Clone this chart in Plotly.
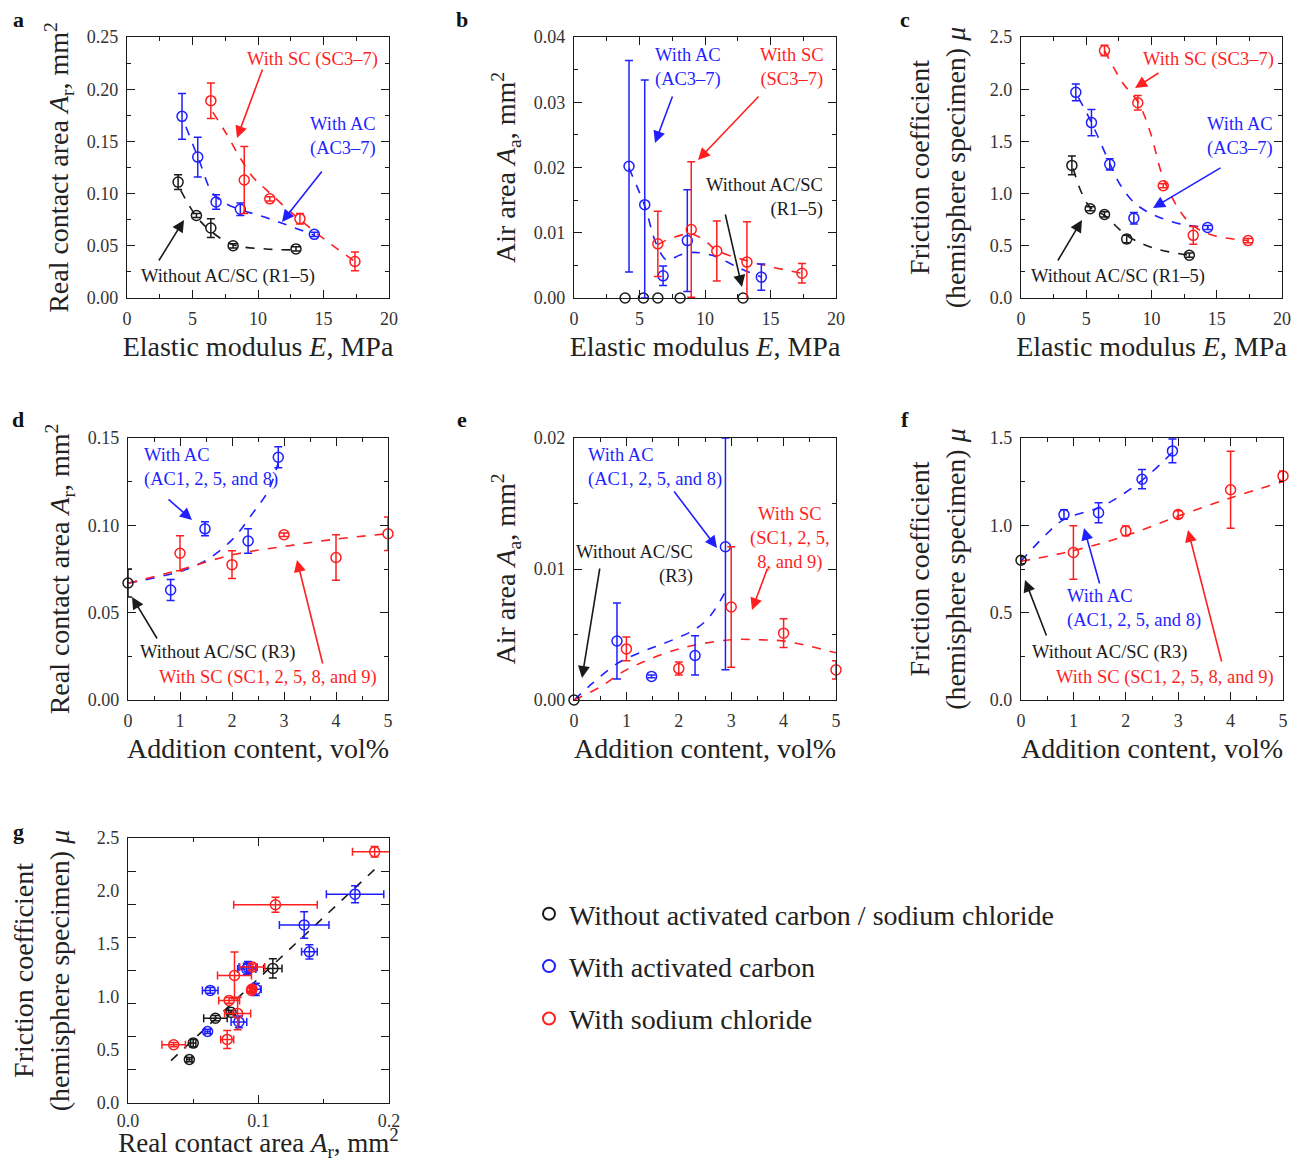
import plotly.graph_objects as go

# the page puts the figure 8px in from the top-left corner, so the figure is
# made 8px smaller and reference pixel positions are shifted by OFF
OFF = 8
W, H = 1307 - OFF, 1162 - OFF
FONT = "Liberation Serif"
RED, BLUE, BLACK = "#ff1f1f", "#1f1fff", "#1a1a1a"

# ---- panels a-c: elastic modulus series ----
E_R = [3.9, 5.3, 6.4, 8.1, 12.9]
E_AC = [4.2, 5.4, 6.8, 8.65, 14.3]
E_SC = [6.4, 8.95, 10.9, 13.2, 17.4]

ar_R = [0.111, 0.079, 0.067, 0.050, 0.047]
ar_R_err = [0.007, 0.002, 0.009, 0.002, 0.002]
ar_AC = [0.174, 0.135, 0.092, 0.085, 0.061]
ar_AC_err = [0.022, 0.019, 0.007, 0.006, 0.002]
ar_SC = [0.189, 0.113, 0.095, 0.076, 0.035]
ar_SC_err = [0.017, 0.032, 0.002, 0.005, 0.009]

aa_R = [0, 0, 0, 0, 0]
aa_AC = [0.0202, 0.0143, 0.0034, 0.0088, 0.0032]
aa_AC_errp = [0.0162, 0.0191, 0.0015, 0.0078, 0.002]
aa_AC_errm = [0.0162, 0.0143, 0.0015, 0.0078, 0.002]
aa_SC = [0.0083, 0.0105, 0.0072, 0.0055, 0.0038]
aa_SC_err = [0.005, 0.0104, 0.0046, 0.0062, 0.0015]

mu_R = [1.27, 0.855, 0.80, 0.565, 0.41]
mu_R_err = [0.09, 0.02, 0.025, 0.035, 0.02]
mu_AC = [1.97, 1.68, 1.28, 0.765, 0.675]
mu_AC_err = [0.08, 0.125, 0.055, 0.055, 0.02]
mu_SC = [2.37, 1.87, 1.075, 0.60, 0.55]
mu_SC_err = [0.05, 0.07, 0.02, 0.085, 0.02]

# ---- panels d-f: addition content series ----
vol_R3 = [0]
ar_R3, ar_R3_err = [0.067], [0.008]
aa_R3 = [0]
mu_R3, mu_R3_err = [0.80], [0.02]

vol_AC = [0.82, 1.48, 2.31, 2.89]
ar_ACv = [0.063, 0.098, 0.091, 0.139]
ar_ACv_err = [0.006, 0.004, 0.007, 0.006]
aa_ACv = [0.0045, 0.0018, 0.0034, 0.0117]
aa_ACv_errp = [0.0029, 0.0001, 0.0015, 0.0083]
aa_ACv_errm = [0.0029, 0.0001, 0.0015, 0.0094]
mu_ACv = [1.062, 1.072, 1.264, 1.426]
mu_ACv_err = [0.027, 0.057, 0.055, 0.068]

vol_SC = [1, 2, 3, 4, 5]
ar_SCv = [0.084, 0.0775, 0.0946, 0.0816, 0.0952]
ar_SCv_err = [0.010, 0.008, 0.001, 0.013, 0.0096]
aa_SCv = [0.0039, 0.0024, 0.0071, 0.0051, 0.0023]
aa_SCv_err = [0.0009, 0.0005, 0.0046, 0.0011, 0.0007]
mu_SCv = [0.845, 0.968, 1.062, 1.204, 1.283]
mu_SCv_err = [0.153, 0.028, 0.022, 0.22, 0.028]

# ---- dashed fit curves ----
fitA_R = ([4.1, 5.3, 6.5, 8.1, 10.6, 12.9], [0.103, 0.078, 0.063, 0.051, 0.047, 0.046])
fitA_AC = ([4.5, 5.5, 6.55, 7.6, 8.6, 10.6, 12.4, 14.3], [0.164, 0.132, 0.100, 0.090, 0.085, 0.077, 0.069, 0.060])
fitA_SC = ([6.55, 7.6, 8.6, 9.6, 10.6, 11.9, 13.2, 15.2, 17.4], [0.178, 0.157, 0.135, 0.116, 0.104, 0.089, 0.075, 0.055, 0.035])
fitB_AC = ([4.2, 5.4, 6.3, 7.1, 8.1, 9.1, 10.6, 12.7, 14.3], [0.0199, 0.0141, 0.0082, 0.0058, 0.0066, 0.0070, 0.0065, 0.0045, 0.0032])
fitB_SC = ([6.4, 7.6, 9.0, 10.1, 10.9, 13.2, 15.2, 17.4], [0.0082, 0.0093, 0.0098, 0.0086, 0.0073, 0.0057, 0.0047, 0.0038])
fitC_R = ([4.0, 4.6, 5.3, 6.4, 8.1, 10.1, 12.9], [1.24, 1.02, 0.87, 0.79, 0.60, 0.48, 0.41])
fitC_AC = ([4.4, 5.4, 6.8, 7.6, 8.7, 10.1, 12.2, 14.4], [1.92, 1.68, 1.29, 1.085, 0.91, 0.80, 0.71, 0.675])
fitC_SC = ([6.4, 7.8, 9.0, 9.9, 10.9, 12.2, 13.2, 14.7, 17.4], [2.37, 2.06, 1.87, 1.59, 1.15, 0.83, 0.69, 0.60, 0.55])
fitD_AC = ([0, 1.0, 1.5, 2.0, 2.4, 2.7, 2.9], [0.0669, 0.0736, 0.080, 0.0917, 0.107, 0.120, 0.137])
fitD_SC = ([0, 1, 2, 3, 4, 5], [0.0669, 0.0745, 0.0831, 0.0879, 0.0921, 0.0952])
fitE_AC = ([0, 0.36, 0.83, 1.25, 1.89, 2.27, 2.53, 2.72, 2.89], [0, 0.0013, 0.0028, 0.0036, 0.0046, 0.0053, 0.0061, 0.0071, 0.0083])
fitE_SC = ([0, 0.5, 1, 2, 3, 3.5, 4, 4.5, 5], [0, 0.001, 0.0023, 0.0039, 0.0046, 0.0046, 0.0045, 0.0041, 0.0036])
fitF_AC = ([0, 0.42, 0.82, 1.48, 1.88, 2.32, 2.71, 2.89], [0.794, 0.93, 1.034, 1.10, 1.166, 1.26, 1.364, 1.42])
fitF_SC = ([0, 1, 2, 3, 4, 5], [0.794, 0.855, 0.94, 1.053, 1.157, 1.25])
fitG = ([0.033, 0.193], [0.40, 2.25])

fig = go.Figure()


def ax_ids(n):
    s = "" if n == 1 else str(n)
    return "x" + s, "y" + s


def err(arr, color, minus=None):
    d = dict(type="data", array=arr, visible=True, color=color, thickness=1.5, width=4)
    if minus is not None:
        d["symmetric"] = False
        d["arrayminus"] = minus
    return d


def pts(n, x, y, color, ey=None, eym=None, ex=None, name=None, legend=False):
    xa, ya = ax_ids(n)
    fig.add_trace(go.Scatter(
        x=x, y=y, mode="markers", xaxis=xa, yaxis=ya, name=name, showlegend=legend,
        legendgroup=name,
        marker=dict(symbol="circle-open", size=10, color=color, line=dict(width=1.5, color=color)),
        error_y=err(ey, color, eym) if ey is not None else None,
        error_x=err(ex, color) if ex is not None else None,
        cliponaxis=False))


def fit(n, xy, color):
    xa, ya = ax_ids(n)
    fig.add_trace(go.Scatter(
        x=xy[0], y=xy[1], mode="lines", xaxis=xa, yaxis=ya, showlegend=False,
        line=dict(color=color, width=1.6, dash="dash", shape="spline")))


# a
fit(1, fitA_R, BLACK); fit(1, fitA_AC, BLUE); fit(1, fitA_SC, RED)
pts(1, E_R, ar_R, BLACK, ar_R_err)
pts(1, E_AC, ar_AC, BLUE, ar_AC_err)
pts(1, E_SC, ar_SC, RED, ar_SC_err)
# b
fit(2, fitB_AC, BLUE); fit(2, fitB_SC, RED)
pts(2, E_R, aa_R, BLACK)
pts(2, E_AC, aa_AC, BLUE, aa_AC_errp, aa_AC_errm)
pts(2, E_SC, aa_SC, RED, aa_SC_err)
# c
fit(3, fitC_R, BLACK); fit(3, fitC_AC, BLUE); fit(3, fitC_SC, RED)
pts(3, E_R, mu_R, BLACK, mu_R_err)
pts(3, E_AC, mu_AC, BLUE, mu_AC_err)
pts(3, E_SC, mu_SC, RED, mu_SC_err)
# d
fit(4, fitD_AC, BLUE); fit(4, fitD_SC, RED)
pts(4, vol_AC, ar_ACv, BLUE, ar_ACv_err)
pts(4, vol_SC, ar_SCv, RED, ar_SCv_err)
pts(4, vol_R3, ar_R3, BLACK, ar_R3_err)
# e
fit(5, fitE_AC, BLUE); fit(5, fitE_SC, RED)
pts(5, vol_AC, aa_ACv, BLUE, aa_ACv_errp, aa_ACv_errm)
pts(5, vol_SC, aa_SCv, RED, aa_SCv_err)
pts(5, vol_R3, aa_R3, BLACK)
# f
fit(6, fitF_AC, BLUE); fit(6, fitF_SC, RED)
pts(6, vol_AC, mu_ACv, BLUE, mu_ACv_err)
pts(6, vol_SC, mu_SCv, RED, mu_SCv_err)
pts(6, vol_R3, mu_R3, BLACK, mu_R3_err)
# g: friction coefficient vs real contact area, all specimens
fit(7, fitG, BLACK)
pts(7, ar_R, mu_R, BLACK, mu_R_err, ex=ar_R_err,
    name="Without activated carbon / sodium chloride", legend=True)
pts(7, ar_AC + ar_ACv, mu_AC + mu_ACv, BLUE, mu_AC_err + mu_ACv_err, ex=ar_AC_err + ar_ACv_err,
    name="With activated carbon", legend=True)
pts(7, ar_SC + ar_SCv, mu_SC + mu_SCv, RED, mu_SC_err + mu_SCv_err, ex=ar_SC_err + ar_SCv_err,
    name="With sodium chloride", legend=True)

# ---- axes ----
TF = dict(family=FONT, size=18, color="#333")
TT = dict(family=FONT, size=28, color="#222")
AR_T = "Real contact area <i>A</i><sub>r</sub>, mm<sup>2</sup>"
AA_T = "Air area <i>A</i><sub>a</sub>, mm<sup>2</sup>"
MU_T = "Friction coefficient<br>(hemisphere specimen) <i>μ</i>"
E_T = "Elastic modulus <i>E</i>, MPa"
V_T = "Addition content, vol%"

base = dict(showline=True, linecolor=BLACK, linewidth=1.4, mirror="ticks", ticks="inside",
            ticklen=8, tickwidth=1.2, tickcolor=BLACK, showgrid=False, zeroline=False,
            tickfont=TF, tick0=0, automargin=False, ticklabelstandoff=4)

# (xpix, ypix box, xrange, yrange, xdtick, ydtick, xfmt, yfmt, xtitle, ytitle, xstandoff, ystandoff)
panels = [
    ((127, 389), (37, 298), [0, 20], [0, 0.25], 5, 0.05, "d", ".2f", E_T, AR_T, 8, 9),
    ((574, 836), (37, 298), [0, 20], [0, 0.04], 5, 0.01, "d", ".2f", E_T, AA_T, 8, 9),
    ((1021, 1282), (37, 298), [0, 20], [0, 2.5], 5, 0.5, "d", ".1f", E_T, MU_T, 8, 15),
    ((128, 388), (438, 700), [0, 5], [0, 0.15], 1, 0.05, "d", ".2f", V_T, AR_T, 8, 9),
    ((574, 836), (438, 700), [0, 5], [0, 0.02], 1, 0.01, "d", ".2f", V_T, AA_T, 8, 9),
    ((1021, 1283), (438, 700), [0, 5], [0, 1.5], 1, 0.5, "d", ".1f", V_T, MU_T, 8, 15),
    ((128, 389), (838, 1103), [0, 0.2], [0, 2.5], 0.1, 0.5, ".1f", ".1f", AR_T, MU_T, 8, 20),
]

layout = dict(width=W, height=H, margin=dict(l=0, r=0, t=0, b=0, autoexpand=False),
              paper_bgcolor="white", plot_bgcolor="white",
              font=dict(family=FONT, color="#222"))

for i, (xb, yb, xr, yr, xd, yd, xf, yf, xt, yt, xs, ys) in enumerate(panels, start=1):
    s = "" if i == 1 else str(i)
    xa = dict(base, domain=[(xb[0] - OFF) / W, (xb[1] - OFF) / W], range=xr, dtick=xd, tickformat=xf,
              anchor="y" + s, minor=dict(ticks="inside", ticklen=4, dtick=xd / 2, tickcolor=BLACK),
              title=dict(text=xt, font=TT, standoff=xs))
    ya = dict(base, domain=[1 - (yb[1] - OFF) / H, 1 - (yb[0] - OFF) / H], range=yr, dtick=yd,
              tickformat=yf, anchor="x" + s,
              minor=dict(ticks="inside", ticklen=4, dtick=yd / 2, tickcolor=BLACK),
              title=dict(text=yt, font=TT, standoff=ys))
    if i == 7:
        # tick marks in the original sit at eighths of the range, not at the labels
        ya["ticklen"] = 0
        ya["minor"] = dict(ticks="inside", ticklen=8, tickmode="array",
                           tickvals=[k * 2.5 / 8 for k in range(1, 8)], tickcolor=BLACK)
        # bottom title sits at the page edge, so the tick labels move up instead
        xa["ticklabelstandoff"] = 1
        xa["title"]["font"] = dict(TT, size=27)
    layout["xaxis" + s] = xa
    layout["yaxis" + s] = ya

layout["legend"] = dict(x=(529 - OFF) / W, y=1 - (889 - OFF) / H, xanchor="left", yanchor="top",
                        font=dict(family=FONT, size=28, color="#222"),
                        tracegroupgap=13, itemsizing="constant", bgcolor="rgba(0,0,0,0)")

fig.update_layout(**layout)


def px(x, y):
    return (x - OFF) / W, 1 - (y - OFF) / H


def label(x, y, text, color, align="center", xanchor="center", size=18.5):
    X, Y = px(x, y)
    fig.add_annotation(x=X, y=Y, xref="paper", yref="paper", text=text, showarrow=False,
                       font=dict(family=FONT, size=size, color=color), align=align,
                       xanchor=xanchor, yanchor="middle")


def arrow(tail, tip, color):
    X, Y = px(*tip)
    fig.add_annotation(x=X, y=Y, xref="paper", yref="paper", text="", showarrow=True,
                       ax=tail[0] - tip[0], ay=tail[1] - tip[1], axref="pixel", ayref="pixel",
                       arrowhead=2, arrowsize=1.5, arrowwidth=1.6, arrowcolor=color)


# panel letters
for t, (x, y) in zip("abcdefg", [(18, 19), (462, 19), (905, 19), (18, 419), (462, 419), (905, 419), (18, 831)]):
    label(x, y, "<b>" + t + "</b>", "#111", size=22)

# a
label(312, 60, "With SC (SC3–7)", RED)
label(343, 137, "With AC<br>(AC3–7)", BLUE)
label(228, 276, "Without AC/SC (R1–5)", BLACK)
arrow((263, 68), (237, 138), RED)
arrow((323, 170), (282, 222), BLUE)
arrow((158, 262), (184, 220), BLACK)
# b
label(688, 67, "With AC<br>(AC3–7)", BLUE)
label(792, 67, "With SC<br>(SC3–7)", RED)
label(825, 198, "Without AC/SC<br>(R1–5)", BLACK, align="right", xanchor="right")
arrow((673, 95), (655, 143), BLUE)
arrow((760, 95), (698, 160), RED)
arrow((725, 213), (742, 287), BLACK)
# c
label(1208, 60, "With SC (SC3–7)", RED)
label(1240, 137, "With AC<br>(AC3–7)", BLUE)
label(1118, 276, "Without AC/SC (R1–5)", BLACK)
arrow((1160, 72), (1135, 88), RED)
arrow((1222, 167), (1153, 208), BLUE)
arrow((1057, 262), (1082, 220), BLACK)
# d
label(142, 468, "With AC<br>(AC1, 2, 5, and 8)", BLUE, align="left", xanchor="left")
label(218, 652, "Without AC/SC (R3)", BLACK)
label(268, 677, "With SC (SC1, 2, 5, 8, and 9)", RED)
arrow((167, 498), (192, 520), BLUE)
arrow((158, 640), (132, 597), BLACK)
arrow((323, 665), (297, 560), RED)
# e
label(586, 468, "With AC<br>(AC1, 2, 5, and 8)", BLUE, align="left", xanchor="left")
label(790, 538, "With SC<br>(SC1, 2, 5,<br>8, and 9)", RED)
label(695, 565, "Without AC/SC<br>(R3)", BLACK, align="right", xanchor="right")
arrow((673, 490), (717, 548), BLUE)
arrow((768, 567), (752, 610), RED)
arrow((600, 567), (582, 678), BLACK)
# f
label(1065, 608, "With AC<br>(AC1, 2, 5, and 8)", BLUE, align="left", xanchor="left")
label(1110, 652, "Without AC/SC (R3)", BLACK)
label(1165, 677, "With SC (SC1, 2, 5, 8, and 9)", RED)
arrow((1100, 585), (1084, 528), BLUE)
arrow((1047, 637), (1025, 580), BLACK)
arrow((1222, 663), (1188, 530), RED)

fig.write_html("out.html")
